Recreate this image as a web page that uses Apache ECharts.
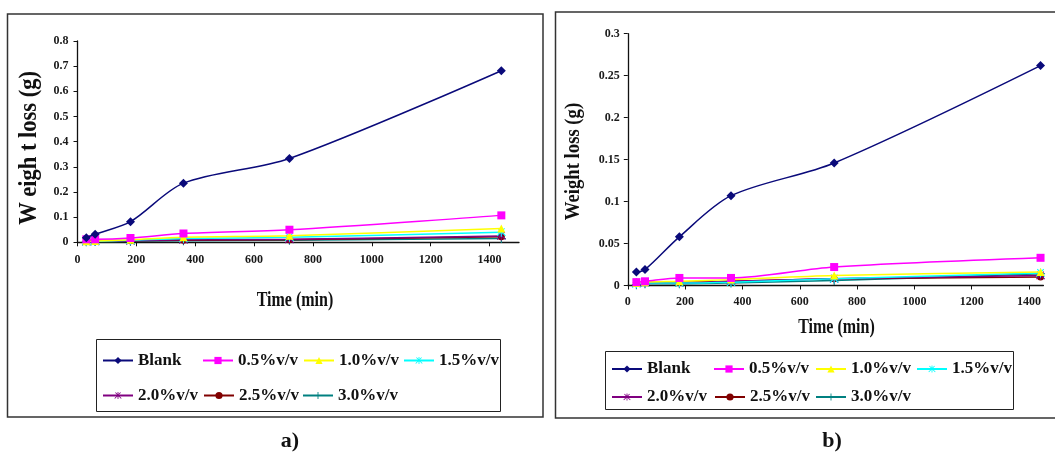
<!DOCTYPE html>
<html>
<head>
<meta charset="utf-8">
<script src="https://cdn.jsdelivr.net/npm/echarts@6/dist/echarts.min.js"></script>
<style>
html,body{margin:0;padding:0;background:#fff;}
#chart{width:1055px;height:455px;}
</style>
</head>
<body>
<div id="chart"></div>
<script>
// Time points (min)
var times = [30, 60, 180, 360, 720, 1440];
var seriesNames = ['Blank', '0.5%v/v', '1.0%v/v', '1.5%v/v', '2.0%v/v', '2.5%v/v', '3.0%v/v'];

// Panel a) weight loss (g)
var blankA = [0.018, 0.032, 0.082, 0.235, 0.333, 0.682];
var p05A   = [0.012, 0.012, 0.017, 0.035, 0.050, 0.107];
var p10A   = [0.004, 0.005, 0.010, 0.020, 0.026, 0.055];
var p15A   = [0.003, 0.004, 0.008, 0.015, 0.020, 0.040];
var p20A   = [0.003, 0.004, 0.006, 0.010, 0.012, 0.025];
var p25A   = [0.006, 0.008, 0.006, 0.008, 0.010, 0.022];
var p30A   = [0.002, 0.003, 0.004, 0.006, 0.008, 0.015];

// Panel b) weight loss (g)
var blankB = [0.016, 0.019, 0.058, 0.107, 0.146, 0.262];
var p05B   = [0.004, 0.005, 0.009, 0.009, 0.022, 0.033];
var p10B   = [0.003, 0.004, 0.005, 0.007, 0.012, 0.016];
var p15B   = [0.002, 0.003, 0.003, 0.004, 0.008, 0.015];
var p20B   = [0.003, 0.003, 0.003, 0.005, 0.008, 0.012];
var p25B   = [0.004, 0.004, 0.004, 0.005, 0.008, 0.010];
var p30B   = [0.001, 0.002, 0.002, 0.003, 0.006, 0.014];

// Axis tick labels
var xTicks = [0, 200, 400, 600, 800, 1000, 1200, 1400];
var yTicksA = [0, 0.1, 0.2, 0.3, 0.4, 0.5, 0.6, 0.7, 0.8];
var yTicksB = [0, 0.05, 0.1, 0.15, 0.2, 0.25, 0.3];

var colors = ['#0a0a7a', '#ff00ff', '#ffff00', '#00ffff', '#800080', '#800000', '#008080'];
var asterisk = 'path://M4.4,0h1.2v10h-1.2z M0.9,1.2l0.85,-0.85l8.35,8.35l-0.85,0.85z M9.1,1.2l-0.85,-0.85l-8.35,8.35l0.85,0.85z';
var plus = 'path://M4.4,0h1.2v4.4h4.4v1.2h-4.4v4.4h-1.2v-4.4h-4.4v-1.2h4.4z';
var symbols = ['diamond', 'rect', 'triangle', asterisk, asterisk, 'circle', plus];
var symbolSizes = [9, 8, 8, 9, 9, 7, 9];

var FONT = '"Liberation Serif","Times New Roman",serif';

function pairs(vals) { return times.map(function (t, i) { return [t, vals[i]]; }); }

var dataA = [blankA, p05A, p10A, p15A, p20A, p25A, p30A];
var dataB = [blankB, p05B, p10B, p15B, p20B, p25B, p30B];

var series = [];
function addSeries(arr, idx) {
  arr.forEach(function (vals, i) {
    series.push({
      name: seriesNames[i],
      type: 'line',
      xAxisIndex: idx, yAxisIndex: idx,
      data: pairs(vals),
      smooth: 0.3,
      symbol: symbols[i],
      symbolSize: symbolSizes[i],
      showSymbol: true,
      lineStyle: { color: colors[i], width: 1.5 },
      itemStyle: { color: colors[i] },
      emphasis: { disabled: true },
      z: 10 - i
    });
  });
}
addSeries(dataA, 0);
addSeries(dataB, 1);

function fmt(v) { return String(+v.toFixed(2)); }

function xAxis(gridIndex, max, margin) {
  return {
    type: 'value', gridIndex: gridIndex, min: 0, max: max, interval: 200,
    splitLine: { show: false },
    axisLine: { lineStyle: { color: '#111', width: 1.3 } },
    axisTick: { show: true, length: 4, lineStyle: { color: '#111' } },
    axisLabel: {
      color: '#1a1a1a', fontFamily: FONT, fontWeight: 'bold', fontSize: 12, margin: margin,
      showMaxLabel: false,
      formatter: function (v) { return xTicks.indexOf(v) >= 0 ? String(v) : ''; }
    }
  };
}
function yAxis(gridIndex, ticks, margin) {
  return {
    type: 'value', gridIndex: gridIndex, min: 0, max: ticks[ticks.length - 1],
    interval: ticks[1] - ticks[0],
    splitLine: { show: false },
    axisLine: { show: true, lineStyle: { color: '#111', width: 1.3 } },
    axisTick: { show: true, length: 4, lineStyle: { color: '#111' } },
    axisLabel: { color: '#1a1a1a', fontFamily: FONT, fontWeight: 'bold', fontSize: 12, margin: margin, formatter: fmt }
  };
}

// One legend component per entry so each entry sits where the reference puts it
function legendItem(name, left, top) {
  return {
    data: [name], left: left, top: top, orient: 'horizontal',
    padding: 0, itemWidth: 30, itemHeight: 9,
    selectedMode: false,
    textStyle: { fontFamily: FONT, fontWeight: 'bold', fontSize: 17, color: '#111' }
  };
}
var legendLeftA = [102, 202, 303, 403, 102, 203, 302];
var legendLeftB = [611, 713, 815, 916, 611, 714, 815];
var legends = [];
seriesNames.forEach(function (n, i) {
  legends.push(legendItem(n, legendLeftA[i], i < 4 ? 352 : 387));
  legends.push(legendItem(n, legendLeftB[i], i < 4 ? 360.5 : 388.5));
});

function label(text, x, y, size, rot, sx) {
  return {
    type: 'text', x: x, y: y, rotation: rot, scaleX: sx, scaleY: 1, silent: true,
    style: { text: text, font: 'bold ' + size + 'px ' + FONT, fill: '#111', align: 'center', verticalAlign: 'middle' }
  };
}

var option = {
  animation: false,
  backgroundColor: '#fff',
  grid: [
    { left: 77.5, top: 41, width: 441.5, height: 201.3 },
    { left: 627.8, top: 33.7, width: 415.6, height: 251.8 }
  ],
  xAxis: [xAxis(0, 1500, 12), xAxis(1, 1450, 10)],
  yAxis: [yAxis(0, yTicksA, 9), yAxis(1, yTicksB, 8)],
  legend: legends,
  series: series,
  graphic: [
    { type: 'rect', shape: { x: 7.5, y: 14, width: 535.5, height: 403 }, style: { fill: 'none', stroke: '#333', lineWidth: 1.5 }, silent: true },
    { type: 'rect', shape: { x: 555.5, y: 12, width: 510, height: 406 }, style: { fill: 'none', stroke: '#333', lineWidth: 1.5 }, silent: true },
    { type: 'rect', shape: { x: 96.5, y: 339.5, width: 404, height: 72 }, style: { fill: 'none', stroke: '#222', lineWidth: 1 }, silent: true },
    { type: 'rect', shape: { x: 605.5, y: 351.5, width: 408, height: 58 }, style: { fill: 'none', stroke: '#222', lineWidth: 1 }, silent: true },
    label('W eigh t loss (g)', 30, 148, 25, Math.PI / 2, 0.9),
    label('Time (min)', 295, 301, 20, 0, 0.8),
    label('Weight loss (g)', 574, 161.5, 21, Math.PI / 2, 0.89),
    label('Time (min)', 836.5, 328, 20, 0, 0.8),
    label('a)', 290, 441, 22, 0, 1),
    label('b)', 832, 441, 22, 0, 1)
  ]
};

var chart = echarts.init(document.getElementById('chart'), null, { renderer: 'canvas' });
chart.setOption(option);
</script>
</body>
</html>
